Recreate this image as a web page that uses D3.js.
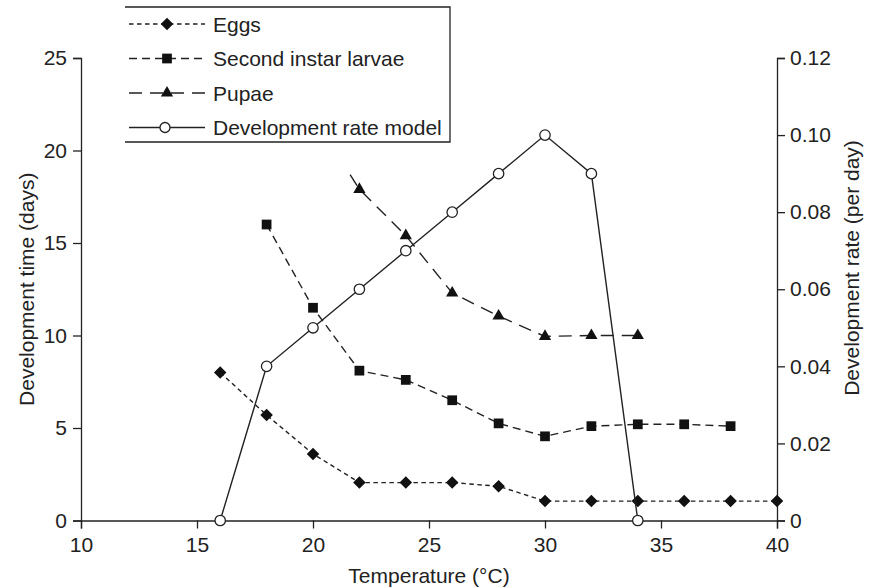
<!DOCTYPE html>
<html>
<head>
<meta charset="utf-8">
<script src="https://cdn.jsdelivr.net/npm/d3@7"></script>
<style>
  body { margin: 0; background: #fff; }
  svg text { font-family: "Liberation Sans", Arial, sans-serif; fill: #222; }
</style>
</head>
<body>
<div id="chart"></div>
<script>
// Values
const temps = [16, 18, 20, 22, 24, 26, 28, 30, 32, 34, 36, 38, 40];
const eggs = [8.0, 5.7, 3.6, 2.05, 2.05, 2.05, 1.85, 1.05, 1.05, 1.05, 1.05, 1.05, 1.05];

const larvaeTemps = [18, 20, 22, 24, 26, 28, 30, 32, 34, 36, 38];
const larvae = [16.0, 11.5, 8.1, 7.6, 6.5, 5.25, 4.55, 5.1, 5.2, 5.2, 5.1];

// first pupae point has no marker: the dashed line starts a little before 22 °C
const pupaeTemps = [21.6, 22, 24, 26, 28, 30, 32, 34];
const pupae = [18.7, 17.9, 15.4, 12.3, 11.05, 9.95, 10.0, 10.0];

const rateTemps = [16, 18, 20, 22, 24, 26, 28, 30, 32, 34];
const rate = [0, 0.04, 0.05, 0.06, 0.07, 0.08, 0.09, 0.10, 0.09, 0];

const xTicks = [10, 15, 20, 25, 30, 35, 40];
const yTicks = [0, 5, 10, 15, 20, 25];
const rTicks = [0, 0.02, 0.04, 0.06, 0.08, 0.10, 0.12];
const legendLabels = ["Eggs", "Second instar larvae", "Pupae", "Development rate model"];

const W = 869, H = 588;
const margin = { top: 58, right: 92, bottom: 67.5, left: 81 };
const width = W - margin.left - margin.right;
const height = H - margin.top - margin.bottom;
const fontSize = "21px";

const svg = d3.select("#chart").append("svg")
  .attr("width", W).attr("height", H);
svg.append("rect").attr("width", W).attr("height", H).attr("fill", "#fff");

const g = svg.append("g").attr("transform", `translate(${margin.left},${margin.top})`);

const x = d3.scaleLinear().domain([10, 40]).range([0, width]);
const y = d3.scaleLinear().domain([0, 25]).range([height, 0]);
const yr = d3.scaleLinear().domain([0, 0.12]).range([height, 0]);

// axes
function styleAxis(sel) {
  sel.selectAll("path, line").attr("stroke", "#222").attr("stroke-width", 1.3);
  sel.selectAll("text").style("font-size", fontSize).attr("fill", "#222");
}

g.append("g")
  .attr("transform", `translate(0,${height})`)
  .call(d3.axisBottom(x).tickValues(xTicks).tickSize(8).tickPadding(9))
  .call(styleAxis);

g.append("g")
  .call(d3.axisLeft(y).tickValues(yTicks).tickSize(8).tickPadding(6))
  .call(styleAxis);

g.append("g")
  .attr("transform", `translate(${width},0)`)
  .call(d3.axisRight(yr).tickValues(rTicks).tickSize(8).tickPadding(5)
    .tickFormat(d => d === 0 ? "0" : d3.format(".2f")(d)))
  .call(styleAxis);

// axis titles
svg.append("text")
  .attr("x", margin.left + width / 2).attr("y", 583)
  .attr("text-anchor", "middle").style("font-size", fontSize)
  .text("Temperature (°C)");

svg.append("text")
  .attr("transform", `translate(34,${margin.top + height / 2}) rotate(-90)`)
  .attr("text-anchor", "middle").style("font-size", fontSize)
  .text("Development time (days)");

svg.append("text")
  .attr("transform", `translate(859,268) rotate(-90)`)
  .attr("text-anchor", "middle").style("font-size", fontSize)
  .text("Development rate (per day)");

// series
const series = [
  { xs: temps, ys: eggs, scale: y, dash: "4.5,3.5", shape: d3.symbolDiamond2, size: 100, fill: "#111", skipFirst: false },
  { xs: larvaeTemps, ys: larvae, scale: y, dash: "8,5", shape: d3.symbolSquare, size: 95, fill: "#111", skipFirst: false },
  { xs: pupaeTemps, ys: pupae, scale: y, dash: "13,8", shape: d3.symbolTriangle, size: 65, fill: "#111", skipFirst: true },
  { xs: rateTemps, ys: rate, scale: yr, dash: null, shape: null, size: 0, fill: "#fff", skipFirst: false }
];

series.forEach(s => {
  const pts = s.xs.map((t, i) => [t, s.ys[i]]);
  const line = d3.line().x(d => x(d[0])).y(d => s.scale(d[1]));
  g.append("path")
    .datum(pts)
    .attr("d", line)
    .attr("fill", "none")
    .attr("stroke", "#222")
    .attr("stroke-width", 1.4)
    .attr("stroke-dasharray", s.dash);

  const marks = s.skipFirst ? pts.slice(1) : pts;
  if (s.shape) {
    g.selectAll(null).data(marks).enter().append("path")
      .attr("transform", d => `translate(${x(d[0])},${s.scale(d[1])})`)
      .attr("d", d3.symbol().type(s.shape).size(s.size))
      .attr("fill", s.fill);
  } else {
    g.selectAll(null).data(marks).enter().append("circle")
      .attr("cx", d => x(d[0])).attr("cy", d => s.scale(d[1]))
      .attr("r", 5.2)
      .attr("fill", "#fff").attr("stroke", "#222").attr("stroke-width", 1.3);
  }
});

// legend (box has no left edge in the source)
const legend = svg.append("g");
const lx0 = 125, lx1 = 450, ly0 = 7, ly1 = 142;
legend.append("path")
  .attr("d", `M${lx0},${ly0}H${lx1}V${ly1}H${lx0}`)
  .attr("fill", "none").attr("stroke", "#222").attr("stroke-width", 1.3);

legendLabels.forEach((label, i) => {
  const s = series[i];
  const cy = 24 + i * 34.5;
  const row = legend.append("g").attr("transform", `translate(0,${cy})`);
  row.append("line")
    .attr("x1", 129).attr("x2", 205)
    .attr("stroke", "#222").attr("stroke-width", 1.4)
    .attr("stroke-dasharray", s.dash);
  if (s.shape) {
    row.append("path")
      .attr("transform", "translate(167,0)")
      .attr("d", d3.symbol().type(s.shape).size(s.size))
      .attr("fill", s.fill);
  } else {
    row.append("circle").attr("cx", 165).attr("cy", 0).attr("r", 5)
      .attr("fill", "#fff").attr("stroke", "#222").attr("stroke-width", 1.3);
  }
  row.append("text")
    .attr("x", 213).attr("y", 7.5)
    .style("font-size", fontSize)
    .text(label);
});
</script>
</body>
</html>
